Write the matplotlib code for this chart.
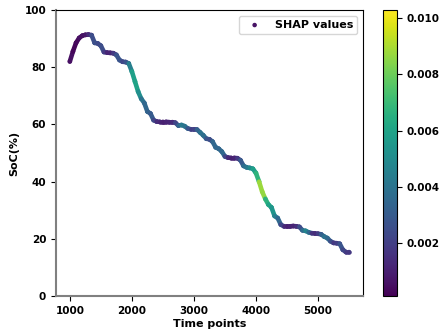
import numpy as np
import matplotlib
matplotlib.use("Agg")
import matplotlib.pyplot as plt
from matplotlib.collections import LineCollection

# time points (every 50 steps)
time_points = list(range(1000, 5501, 50))

soc = [82.0, 85.5, 88.5, 90.2, 91.0, 91.3, 91.4, 91.2, 88.5, 88.3,
       87.5, 85.3, 85.1, 85.0, 84.9, 84.3, 82.5, 81.9, 81.8, 81.3,
       78.5, 75.0, 71.5, 69.0, 67.5, 64.5, 63.8, 61.5, 61.0, 60.9,
       60.9, 60.9, 60.8, 60.8, 60.6, 59.6, 59.8, 59.4, 58.6, 58.3,
       58.3, 58.2, 57.2, 56.2, 55.0, 54.8, 54.0, 52.0, 51.5, 50.5,
       48.8, 48.4, 48.3, 48.3, 48.2, 47.5, 45.5, 45.0, 44.8, 44.5,
       43.0, 40.0, 36.5, 34.0, 32.0, 31.0, 28.0, 27.3, 25.0, 24.4,
       24.4, 24.4, 24.5, 24.4, 24.2, 23.0, 22.8, 22.3, 22.0, 21.9,
       21.8, 21.6, 20.8, 20.3, 19.2, 18.6, 18.5, 18.3, 16.2, 15.4,
       15.4]

shap_values = [0.0006, 0.0004, 0.0001, 0.0005, 0.0005, 0.0006, 0.0008, 0.0020, 0.0030, 0.0022,
               0.0025, 0.0025, 0.0012, 0.0010, 0.0012, 0.0025, 0.0030, 0.0025, 0.0020, 0.0035,
               0.0055, 0.0062, 0.0058, 0.0045, 0.0035, 0.0035, 0.0030, 0.0030, 0.0015, 0.0012,
               0.0010, 0.0010, 0.0012, 0.0012, 0.0015, 0.0030, 0.0040, 0.0045, 0.0035, 0.0020,
               0.0018, 0.0025, 0.0040, 0.0040, 0.0035, 0.0020, 0.0030, 0.0040, 0.0030, 0.0040,
               0.0030, 0.0015, 0.0010, 0.0010, 0.0012, 0.0025, 0.0035, 0.0040, 0.0045, 0.0055,
               0.0062, 0.0072, 0.0103, 0.0070, 0.0062, 0.0058, 0.0050, 0.0040, 0.0030, 0.0015,
               0.0010, 0.0010, 0.0012, 0.0010, 0.0020, 0.0030, 0.0045, 0.0050, 0.0020, 0.0012,
               0.0015, 0.0025, 0.0040, 0.0040, 0.0030, 0.0020, 0.0015, 0.0025, 0.0030, 0.0015,
               0.0020]

plt.rcParams['font.family'] = 'DejaVu Sans'
plt.rcParams['font.weight'] = 'bold'
plt.rcParams['font.size'] = 7.5

x = np.array(time_points)
y = np.array(soc)
c = np.array(shap_values)
norm = plt.Normalize(c.min(), c.max())

fig = plt.figure(figsize=(4.4, 3.32), dpi=100)
ax = fig.add_axes([0.127, 0.108, 0.698, 0.862])
cax = fig.add_axes([0.870, 0.108, 0.032, 0.862])

# thick coloured path joining the read points
pts = np.column_stack([x, y]).reshape(-1, 1, 2)
segs = np.concatenate([pts[:-1], pts[1:]], axis=1)
lc = LineCollection(segs, cmap='viridis', norm=norm, linewidth=3.3, capstyle='round')
lc.set_array((c[:-1] + c[1:]) / 2)
ax.add_collection(lc)

sc = ax.scatter(x, y, c=c, cmap='viridis', norm=norm, s=5, label='SHAP values')

ax.set_ylim(0, 100)
ax.set_xlim(775, 5725)
ax.set_xticks([1000, 2000, 3000, 4000, 5000])
ax.set_yticks([0, 20, 40, 60, 80, 100])
ax.set_xlabel('Time points', fontweight='bold', fontsize=8, labelpad=2)
ax.set_ylabel('SoC(%)', fontweight='bold', fontsize=8)

for side in ['left', 'bottom']:
    ax.spines[side].set_color('gray')
    ax.spines[side].set_linewidth(1.5)

ax.legend(loc='upper right', prop={'weight': 'bold', 'size': 8})

cb = fig.colorbar(sc, cax=cax)
cb.set_ticks([0.002, 0.004, 0.006, 0.008, 0.010])
cb.set_ticklabels(['0.002', '0.004', '0.006', '0.008', '0.010'])

fig.savefig('out.png', dpi=100)
